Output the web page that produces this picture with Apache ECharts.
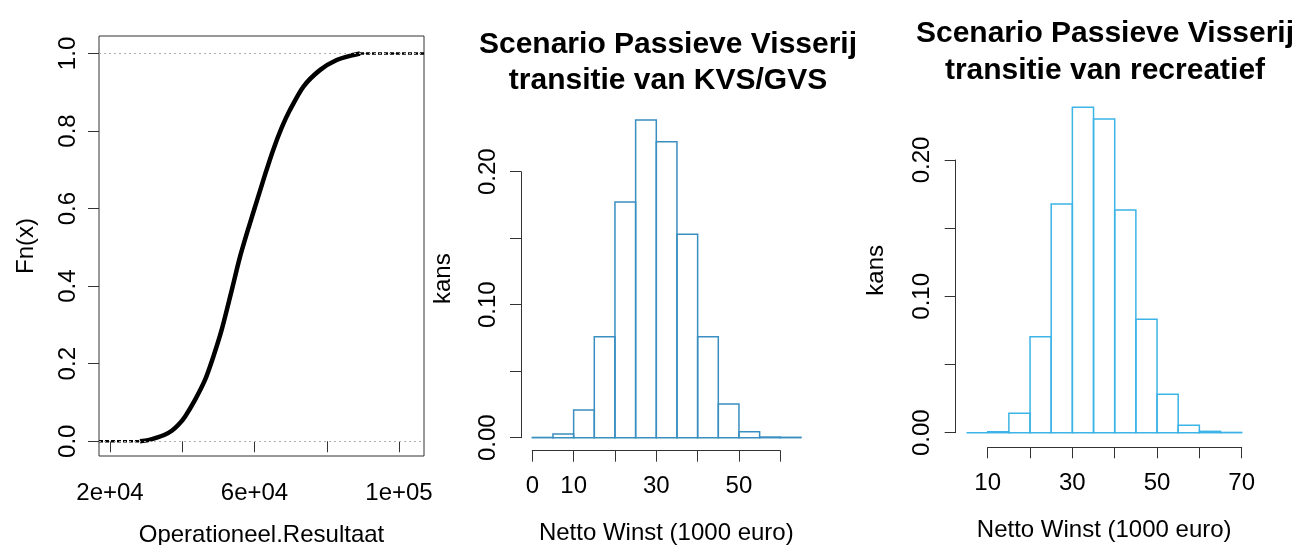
<!DOCTYPE html>
<html>
<head>
<meta charset="utf-8">
<script src="https://cdn.jsdelivr.net/npm/echarts@6/dist/echarts.min.js"></script>
<style>
  html, body { margin: 0; padding: 0; background: #fff; }
  #chart { width: 1301px; height: 545px; }
</style>
</head>
<body>
<div id="chart"></div>
<script>
var ecdfX = [28300, 30500, 32500, 35000, 37100, 39000, 40800, 43500, 46300, 48600, 50900,
             53500, 56000, 58500, 61000, 63000, 65200, 67500, 69800, 73500, 78100, 82750, 87350, 89200];
var ecdfF = [0, 0.003, 0.008, 0.016, 0.027, 0.043, 0.064, 0.106, 0.158, 0.218, 0.287,
             0.382, 0.476, 0.555, 0.630, 0.690, 0.752, 0.808, 0.854, 0.914, 0.957, 0.983, 0.996, 1];
var ecdfLeftTail = [16955, 28300];   // Fn = 0
var ecdfRightTail = [89200, 106920]; // Fn = 1
var ecdfRefLines = [0, 1];

var ecdfXTicks = [20000, 40000, 60000, 80000, 100000];
var ecdfXLabelVals = [20000, 60000, 100000];
var ecdfXLabelText = ['2e+04', '6e+04', '1e+05'];
var ecdfYTicks = [0, 0.2, 0.4, 0.6, 0.8, 1];

// ---- histogram KVS/GVS ----
var kvsBreaks = [0, 5, 10, 15, 20, 25, 30, 35, 40, 45, 50, 55, 60, 65];
var kvsKans = [0.0002, 0.0028, 0.0208, 0.0759, 0.1772, 0.2389, 0.2226, 0.1529, 0.0759, 0.0253, 0.0045, 0.0005, 0.0003];
var kvsXLabels = [0, 10, 30, 50];

// ---- histogram recreatief ----
var recBreaks = [5, 10, 15, 20, 25, 30, 35, 40, 45, 50, 55, 60, 65, 70];
var recKans = [0, 0.0007, 0.0142, 0.0704, 0.1678, 0.2387, 0.2301, 0.1634, 0.0832, 0.0282, 0.0054, 0.001, 0.0002];
var recXLabels = [10, 30, 50, 70];

var kansYLabels = [0, 0.1, 0.2];

var titleKvs = 'Scenario Passieve Visserij\ntransitie van KVS/GVS';
var titleRec = 'Scenario Passieve Visserij\ntransitie van recreatief';

var FONT = 'Liberation Sans, Arial, sans-serif';
var AXIS_COL = '#333';

function pairs(xs, ys) {
    var out = [];
    for (var i = 0; i < xs.length; i++) out.push([xs[i], ys[i]]);
    return out;
}

function histData(breaks, kans) {
    var out = [];
    for (var i = 0; i < kans.length; i++) out.push([breaks[i], breaks[i + 1], kans[i]]);
    return out;
}

function histSeries(idx, data, color) {
    return {
        type: 'custom',
        xAxisIndex: idx,
        yAxisIndex: idx,
        clip: false,
        silent: true,
        data: data,
        encode: { x: [0, 1], y: 2 },
        renderItem: function (params, api) {
            var p0 = api.coord([api.value(0), 0]);
            var p1 = api.coord([api.value(1), api.value(2)]);
            return {
                type: 'rect',
                shape: { x: p0[0], y: p1[1], width: p1[0] - p0[0], height: p0[1] - p1[1] },
                style: { fill: 'none', stroke: color, lineWidth: 1.5 }
            };
        }
    };
}

var txt = { fontSize: 24, color: '#000', fontFamily: FONT };

function tick(len) {
    return { show: true, inside: false, length: len, lineStyle: { color: AXIS_COL, width: 1 } };
}

var chart = echarts.init(document.getElementById('chart'), null, { renderer: 'canvas' });

var option = {
    animation: false,
    backgroundColor: '#fff',
    title: [
        { text: titleKvs, left: 668, top: 27, textAlign: 'center', padding: 0,
          textStyle: { fontSize: 30, fontWeight: 'bold', color: '#000', fontFamily: FONT, lineHeight: 36 } },
        { text: titleRec, left: 1105, top: 15, textAlign: 'center', padding: 0,
          textStyle: { fontSize: 30, fontWeight: 'bold', color: '#000', fontFamily: FONT, lineHeight: 37 } }
    ],
    grid: [
        { left: 99, top: 36, width: 325, height: 420, show: true, borderColor: AXIS_COL, borderWidth: 1,
          outerBoundsMode: 'none', containLabel: false },
        { left: 532.3, top: 171.7, width: 248, height: 266, outerBoundsMode: 'none', containLabel: false },
        { left: 987.7, top: 160, width: 254, height: 272.7, outerBoundsMode: 'none', containLabel: false }
    ],
    xAxis: [
        {
            gridIndex: 0, type: 'value', min: 16955, max: 106920,
            axisLine: { show: false },
            axisTick: Object.assign(tick(11), { customValues: ecdfXTicks }),
            axisLabel: Object.assign({}, txt, {
                customValues: ecdfXLabelVals, margin: 25,
                formatter: function (v) { return ecdfXLabelText[ecdfXLabelVals.indexOf(v)]; }
            }),
            splitLine: { show: false },
            name: 'Operationeel.Resultaat', nameLocation: 'middle', nameGap: 67,
            nameTextStyle: txt
        },
        {
            gridIndex: 1, type: 'value', min: 0, max: 60, interval: 10, offset: 13,
            axisLine: { show: true, onZero: false, lineStyle: { color: AXIS_COL, width: 1 } },
            axisTick: tick(11),
            axisLabel: Object.assign({}, txt, { customValues: kvsXLabels, margin: 24 }),
            splitLine: { show: false },
            name: 'Netto Winst (1000 euro)', nameLocation: 'middle', nameGap: 71,
            nameTextStyle: Object.assign({}, txt, { padding: [0, 0, 0, 20] })
        },
        {
            gridIndex: 2, type: 'value', min: 10, max: 70, interval: 10, offset: 14.6,
            axisLine: { show: true, onZero: false, lineStyle: { color: AXIS_COL, width: 1 } },
            axisTick: tick(11),
            axisLabel: Object.assign({}, txt, { customValues: recXLabels, margin: 24 }),
            splitLine: { show: false },
            name: 'Netto Winst (1000 euro)', nameLocation: 'middle', nameGap: 71,
            nameTextStyle: Object.assign({}, txt, { padding: [0, 21, 0, 0] })
        }
    ],
    yAxis: [
        {
            gridIndex: 0, type: 'value', min: -0.038, max: 1.045,
            axisLine: { show: false },
            axisTick: Object.assign(tick(11), { customValues: ecdfYTicks }),
            axisLabel: Object.assign({}, txt, {
                customValues: ecdfYTicks, rotate: 90, margin: 19,
                formatter: function (v) { return v.toFixed(1); }
            }),
            splitLine: { show: false },
            name: 'Fn(x)', nameLocation: 'middle', nameGap: 61,
            nameTextStyle: txt
        },
        {
            gridIndex: 1, type: 'value', min: 0, max: 0.2, interval: 0.05, offset: 11.3,
            axisLine: { show: true, onZero: false, lineStyle: { color: AXIS_COL, width: 1 } },
            axisTick: tick(11),
            axisLabel: Object.assign({}, txt, {
                customValues: kansYLabels, rotate: 90, margin: 21,
                formatter: function (v) { return v.toFixed(2); }
            }),
            splitLine: { show: false },
            name: 'kans', nameLocation: 'middle', nameGap: 66,
            nameTextStyle: Object.assign({}, txt, { padding: [0, 0, 0, 52] })
        },
        {
            gridIndex: 2, type: 'value', min: 0, max: 0.2, interval: 0.05, offset: 32,
            axisLine: { show: true, onZero: false, lineStyle: { color: AXIS_COL, width: 1 } },
            axisTick: tick(11),
            axisLabel: Object.assign({}, txt, {
                customValues: kansYLabels, rotate: 90, margin: 21,
                formatter: function (v) { return v.toFixed(2); }
            }),
            splitLine: { show: false },
            name: 'kans', nameLocation: 'middle', nameGap: 67.7,
            nameTextStyle: Object.assign({}, txt, { padding: [0, 0, 0, 52] })
        }
    ],
    series: [
        {
            type: 'line', xAxisIndex: 0, yAxisIndex: 0, silent: true,
            data: pairs(ecdfLeftTail, [0, 0]),
            showSymbol: false,
            lineStyle: { color: '#000', width: 2.5, type: [4, 2] },
            markLine: {
                silent: true, symbol: ['none', 'none'],
                label: { show: false },
                lineStyle: { color: '#b0b0b0', width: 1, type: [2, 3] },
                data: ecdfRefLines.map(function (v) { return { yAxis: v }; })
            }
        },
        {
            type: 'line', xAxisIndex: 0, yAxisIndex: 0, silent: true,
            data: pairs(ecdfRightTail, [1, 1]),
            showSymbol: false,
            lineStyle: { color: '#000', width: 2.5, type: [4, 2] }
        },
        {
            type: 'line', xAxisIndex: 0, yAxisIndex: 0, silent: true,
            data: pairs(ecdfX, ecdfF),
            showSymbol: false, smooth: 0.25,
            lineStyle: { color: '#000', width: 4.5, join: 'round' }
        },
        histSeries(1, histData(kvsBreaks, kvsKans), '#3a8fc0'),
        histSeries(2, histData(recBreaks, recKans), '#3cb4e6')
    ]
};

chart.setOption(option);
</script>
</body>
</html>
